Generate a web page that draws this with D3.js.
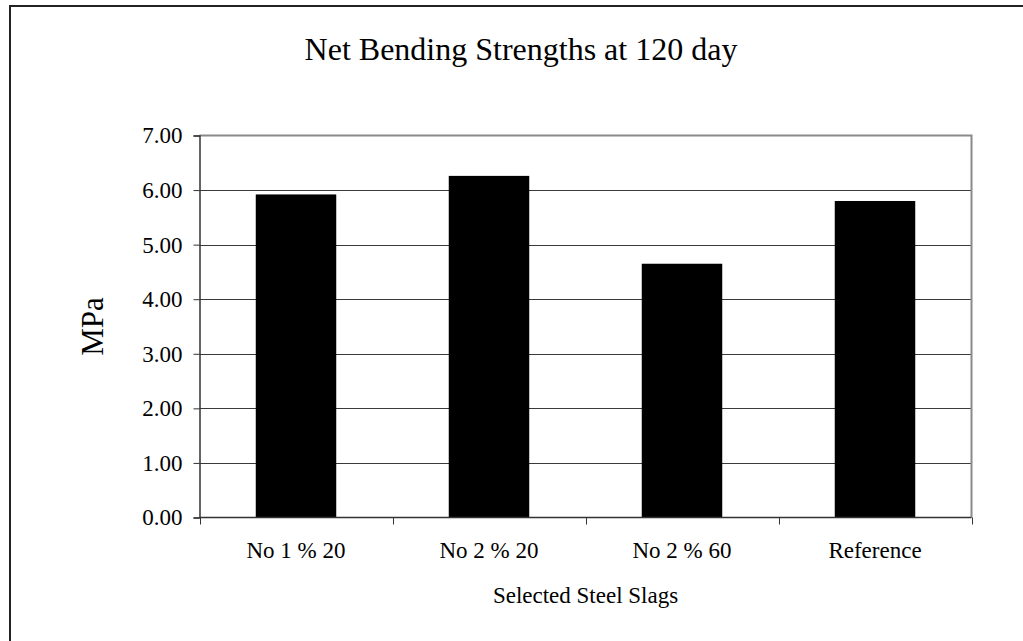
<!DOCTYPE html>
<html>
<head>
<meta charset="utf-8">
<script src="https://cdn.jsdelivr.net/npm/d3@7"></script>
<style>
  html, body { margin: 0; padding: 0; background: #fff; }
  svg { display: block; }
  text { font-family: "Liberation Serif", "Times New Roman", serif; fill: #000; }
</style>
</head>
<body>
<svg id="chart" width="1023" height="641"></svg>
<script>
// Net bending strength (MPa) per slag mix at 120 days
const categories = ["No 1 % 20", "No 2 % 20", "No 2 % 60", "Reference"];
const strengths = [5.92, 6.26, 4.65, 5.80];
const yTicks = [0, 1, 2, 3, 4, 5, 6, 7];

const titleText = "Net Bending Strengths at 120 day";
const yTitle = "MPa";
const xTitle = "Selected Steel Slags";

const W = 1023, H = 641;
const plot = { left: 199.5, top: 135.5, right: 971.5, bottom: 517.5 };

const svg = d3.select("#chart");

// outer chart frame (runs off the right and bottom edges)
svg.append("rect")
  .attr("x", 10).attr("y", 6)
  .attr("width", 1040).attr("height", 660)
  .attr("fill", "#fff")
  .attr("stroke", "#222").attr("stroke-width", 2);

const x = d3.scaleBand()
  .domain(categories)
  .range([plot.left, plot.right])
  .paddingInner(0.583)
  .paddingOuter(0.2915);

const y = d3.scaleLinear()
  .domain([0, 7])
  .range([plot.bottom, plot.top]);

// horizontal gridlines
svg.append("g")
  .selectAll("line")
  .data(yTicks.filter(d => d > 0 && d < 7))
  .join("line")
  .attr("x1", plot.left).attr("x2", plot.right)
  .attr("y1", d => Math.round(y(d)) + 0.5).attr("y2", d => Math.round(y(d)) + 0.5)
  .attr("stroke", "#3a3a3a").attr("stroke-width", 1);

// plot area top and right edges
svg.append("path")
  .attr("d", `M${plot.left},${plot.top}H${plot.right}V${plot.bottom}`)
  .attr("fill", "none")
  .attr("stroke", "#8a8a8a").attr("stroke-width", 2);

// bars
svg.append("g")
  .selectAll("rect")
  .data(categories.map((c, i) => ({ c, v: strengths[i] })))
  .join("rect")
  .attr("x", d => x(d.c))
  .attr("y", d => y(d.v))
  .attr("width", x.bandwidth())
  .attr("height", d => y(0) - y(d.v))
  .attr("fill", "#000");

// y axis
const yAxis = svg.append("g")
  .attr("transform", `translate(${plot.left},0)`)
  .call(d3.axisLeft(y).tickValues(yTicks).tickFormat(d3.format(".2f")).tickSizeOuter(0).tickSize(6).tickPadding(11));
yAxis.select(".domain").attr("stroke", "#333").attr("stroke-width", 1.5);
yAxis.selectAll(".tick line").attr("stroke", "#333");
yAxis.selectAll(".tick text")
  .style("font-family", "'Liberation Serif', 'Times New Roman', serif")
  .style("font-size", "23px").attr("fill", "#000");

// x axis with ticks at category boundaries
const xAxisG = svg.append("g")
  .attr("transform", `translate(0,${plot.bottom})`);
xAxisG.append("line")
  .attr("x1", plot.left).attr("x2", plot.right)
  .attr("stroke", "#333").attr("stroke-width", 1.5);
const step = x.step();
const boundaries = d3.range(categories.length + 1).map(i => plot.left + i * step);
xAxisG.selectAll("line.tick")
  .data(boundaries)
  .join("line")
  .attr("class", "tick")
  .attr("x1", d => Math.round(d) + 0.5).attr("x2", d => Math.round(d) + 0.5)
  .attr("y1", 0).attr("y2", 7)
  .attr("stroke", "#333");
xAxisG.selectAll("text")
  .data(categories)
  .join("text")
  .attr("x", d => x(d) + x.bandwidth() / 2)
  .attr("y", 40)
  .attr("text-anchor", "middle")
  .style("font-size", "23px")
  .text(d => d);

// titles
svg.append("text")
  .attr("x", 521).attr("y", 60)
  .attr("text-anchor", "middle")
  .style("font-size", "32px")
  .text(titleText);

svg.append("text")
  .attr("transform", `translate(103,${(plot.top + plot.bottom) / 2}) rotate(-90)`)
  .attr("text-anchor", "middle")
  .style("font-size", "31px")
  .text(yTitle);

svg.append("text")
  .attr("x", (plot.left + plot.right) / 2).attr("y", 603)
  .attr("text-anchor", "middle")
  .style("font-size", "23px")
  .text(xTitle);
</script>
</body>
</html>
